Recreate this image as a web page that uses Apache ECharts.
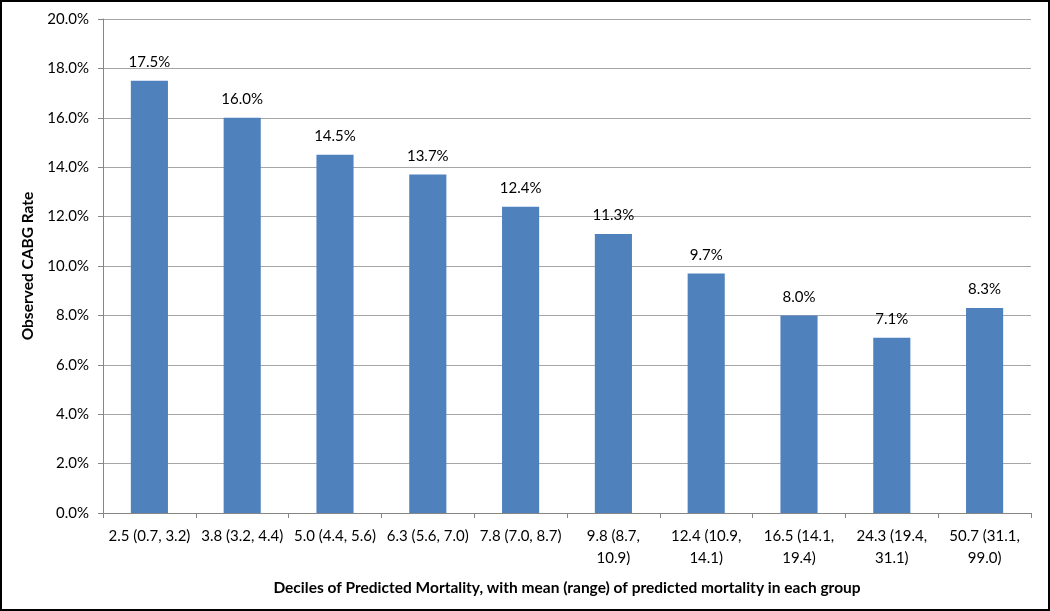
<!DOCTYPE html>
<html>
<head>
<meta charset="utf-8">
<script src="https://cdn.jsdelivr.net/npm/echarts@6/dist/echarts.min.js"></script>
<style>
  html, body { margin: 0; padding: 0; background: #fff; }
  #chart { width: 1050px; height: 611px; box-sizing: border-box; border: 2px solid #000; }
</style>
</head>
<body>
<div id="chart"></div>
<script>
// deciles of predicted mortality: mean (range)
const categories = [
  "2.5 (0.7, 3.2)", "3.8 (3.2, 4.4)", "5.0 (4.4, 5.6)", "6.3 (5.6, 7.0)", "7.8 (7.0, 8.7)",
  "9.8 (8.7,\n10.9)", "12.4 (10.9,\n14.1)", "16.5 (14.1,\n19.4)", "24.3 (19.4,\n31.1)", "50.7 (31.1,\n99.0)"
];
// observed CABG rate, percent
const cabgRate = [17.5, 16.0, 14.5, 13.7, 12.4, 11.3, 9.7, 8.0, 7.1, 8.3];

const font = "Lato, 'Open Sans', sans-serif";
const chart = echarts.init(document.getElementById("chart"));

chart.setOption({
  animation: false,
  textStyle: { fontFamily: font },
  grid: { left: 101, right: 17, top: 17, bottom: 96 },
  xAxis: {
    type: "category",
    data: categories,
    name: "Deciles of Predicted Mortality, with mean (range) of predicted mortality in each group",
    nameLocation: "middle",
    nameGap: 67,
    nameTextStyle: { fontFamily: font, fontSize: 15.5, fontWeight: "bold", color: "#000" },
    axisLine: { lineStyle: { color: "#868686", width: 1 } },
    axisTick: { show: true, length: 5, lineStyle: { color: "#868686" } },
    axisLabel: { color: "#000", fontSize: 15, margin: 12, lineHeight: 22, interval: 0 }
  },
  yAxis: {
    type: "value",
    min: 0,
    max: 20,
    interval: 2,
    name: "Observed CABG Rate",
    nameLocation: "middle",
    nameGap: 63,
    nameTextStyle: { fontFamily: font, fontSize: 15.5, fontWeight: "bold", color: "#000" },
    axisLine: { show: true, lineStyle: { color: "#868686", width: 1 } },
    axisTick: { show: true, inside: false, length: 5, lineStyle: { color: "#868686" } },
    axisLabel: { color: "#000", fontSize: 15, margin: 14, formatter: v => v.toFixed(1) + "%" },
    splitLine: { show: true, lineStyle: { color: "#a6a6a6", width: 1 } }
  },
  series: [{
    type: "bar",
    data: cabgRate,
    barWidth: "40%",
    itemStyle: { color: "#4f81bd" },
    label: {
      show: true,
      position: "top",
      distance: 11,
      color: "#000",
      fontSize: 15,
      fontFamily: font,
      formatter: p => p.value.toFixed(1) + "%"
    }
  }]
});
</script>
</body>
</html>
